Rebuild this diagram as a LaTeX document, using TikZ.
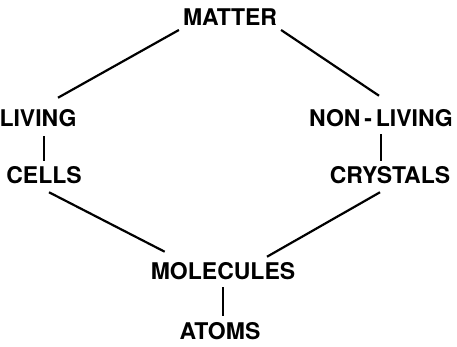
\documentclass[tikz,border=0pt]{standalone}
\usepackage{fontspec}
\setmainfont{TeX Gyre Heros}
\usetikzlibrary{calc}
\usetikzlibrary{positioning}
\begin{document}
\begin{tikzpicture}[x=1pt,y=-1pt,line width=2.2pt,
	  word node/.style={font=\bfseries\fontsize{23}{25}\selectfont, inner sep=3pt}]

	  \useasboundingbox (0,0) rectangle (457,347);

	  \node[word node] (matter) at (230,17.5) {MATTER};
	  \node[word node] (living)  at ($ (matter) + (-192,101) $) {LIVING};
	  \node[word node] (nonliving)  at ($ (matter) + (151,101) $) {NON\,-\,LIVING};
	  \node[word node] (cells)  at ($ (living) + (6,57) $) {CELLS};
	  \node[word node] (crystals)  at ($ (nonliving) + (9,57) $) {CRYSTALS};
	  \node[word node] (molecules)  at (223,271.5) {MOLECULES};
	  \node[word node] (atoms)  at ($ (molecules) + (-3,60) $) {ATOMS};

	  \path
	    	(matter.south west) 	edge 	([xshift=20pt,yshift=8pt]living.north)
	 	(matter.south east)	edge  	([xshift=-2pt,yshift=10pt]nonliving.north)
	 	([yshift=-5pt]living.south -| cells.north)	edge  	([yshift=2pt]cells.north)
	 	([yshift=-3pt]nonliving.south)	edge  	([yshift=2pt]nonliving.south |- crystals.north)
	 	([xshift=5pt,yshift=-4pt]cells.south)	edge  	([xshift=18pt,yshift=7pt]molecules.north west)
	 	([xshift=-10pt,yshift=-4pt]crystals.south)	edge  	([xshift=44pt,yshift=2pt]molecules.north)
	 	([yshift=-3pt]molecules.south)	edge  	([yshift=3pt]molecules.south |- atoms.north);
	\end{tikzpicture}
\end{document}
